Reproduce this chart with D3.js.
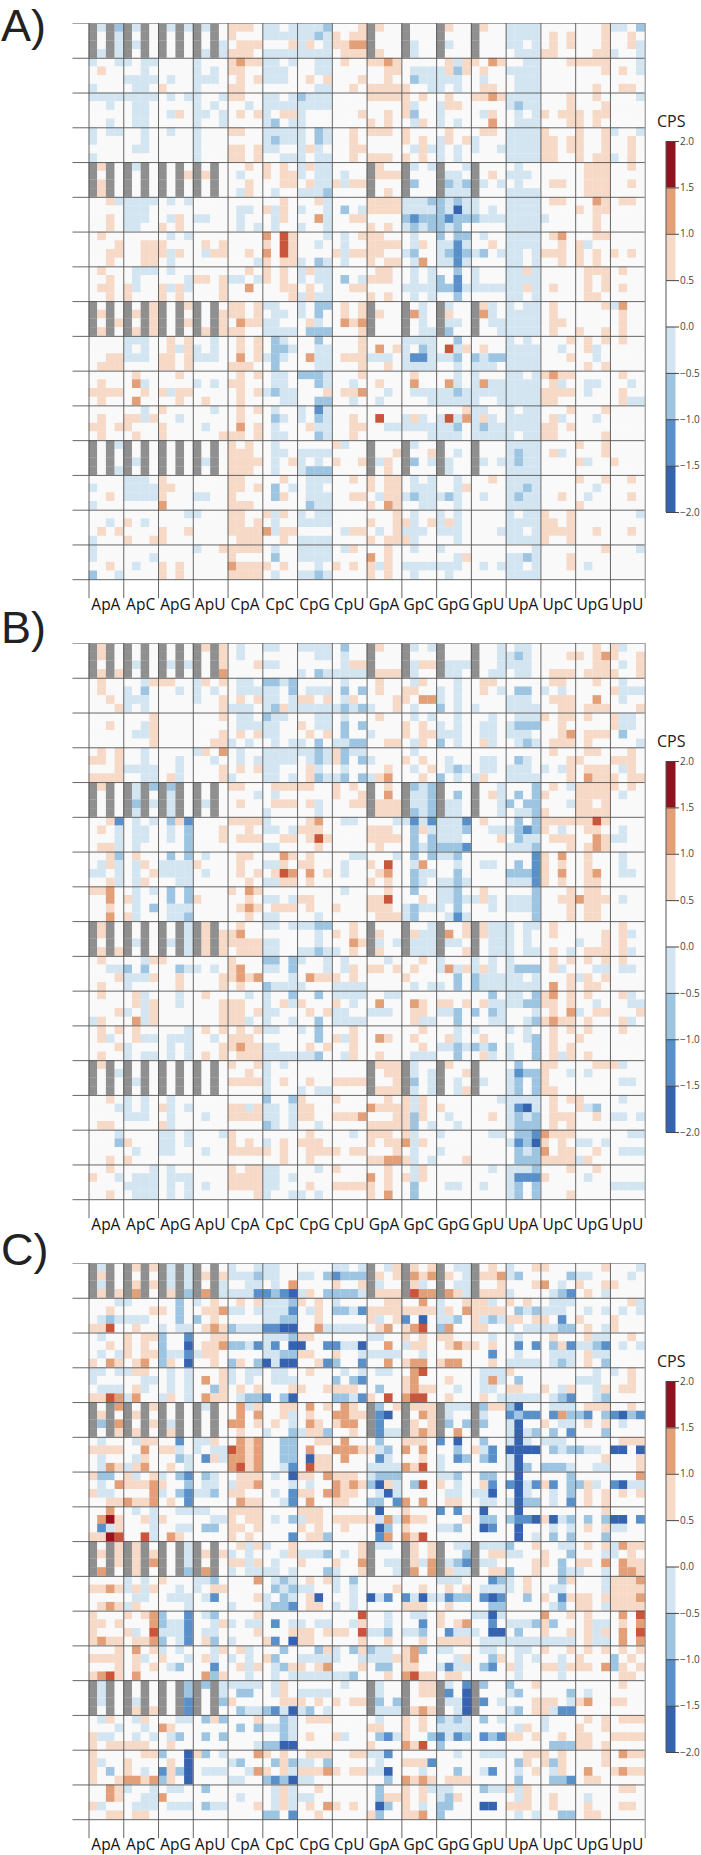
<!DOCTYPE html>
<html>
<head>
<meta charset="utf-8">
<script src="https://cdn.jsdelivr.net/npm/d3@7"></script>
<style>
  html, body { margin: 0; padding: 0; background: #fff; }
  svg { display: block; }
  text { font-family: "Open Sans", sans-serif; }
</style>
</head>
<body>
<svg id="chart" width="701" height="1855"></svg>
<script>
// Axis labels, one for each 4x4 block of cells
const dinucleotides = ['ApA', 'ApC', 'ApG', 'ApU', 'CpA', 'CpC', 'CpG', 'CpU',
                       'GpA', 'GpC', 'GpG', 'GpU', 'UpA', 'UpC', 'UpG', 'UpU'];

// Colour bar
const cbarTicks = [2, 1.5, 1, 0.5, 0, -0.5, -1, -1.5, -2];
const cbarBins = [-2, -1.5, -1, -0.5, 0, 0.5, 1, 1.5];
const cbarColors = ['#3663b0', '#5a90c9', '#9dc5e1', '#d4e5f2', '#ffffff', '#f6d9c6', '#e39f78', '#90111f'];

// CPS value read for each letter in the rows below; x = no data
const cpsByCode = { E: -1.75, C: -1.25, B: -0.75, b: -0.25, '.': 0.25, o: 0.75, O: 1.25, R: 1.75, D: 2.25, x: null };

// One string per row, four cells between spaces
const panelA = [
  'xbxB xbx. xbxb xbx. ooo. bb.b bbbB ...o xo.. x... xo.. xo.. bbbb .... ...o bb.B',
  'x.xb x.x. x.x. x.x. o... bbbb bbBb o.oo x... x... x... x... bbbb .o.o ...o ..o.',
  'x.xb xbx. x.x. x.xb .ooo ...o bo.b ooOO x... xb.. xb.. x... bb.b .o.o ...o ..ob',
  'xbxb x.x. x.x. xbxb ooo. bbbb bbbb .ooo xo.. xb.. x... x... .bbb oo.. ..oo b..b',
  'b..b b.bb .... b... oOoo bb.b ..bb .o.. ooOo .... .obo o.Oo ..bb ...o oooo ...b',
  '.o.. ..b. .... b.b. oo.. bbb. ..bb .... ..oo .bbb boBo .o.. bbbb .... ...o .o.b',
  '.... bbbb .b.. bbb. .o.o bbb. .o.o ...o ..o. .Bbb bbb. .b.. .bbb .... .... ....',
  'b... .bb. o... b... oo.. .... ..bb ..o. oooo o..b b.b. .oo. .bbb .... ..o. .oo.',
  'bbbb bbbb .b.b b..b oo.. bb.b Bbbb .... oooo o.o. .o.. ooOo bbbb ...o ..o. ...b',
  '..b. .bb. .... b.b. ..b. bbbb bbbb .... .... ob.. boo. .... bBbb ...o ...o ....',
  '.... .bb. .bo. bb.b .o.o b.oo b... ...o ..o. oB.. b... .bo. .b.b o.oo o.oo ....',
  '..b. .bb. .... b..b .... bB.b b... .... o.o. .bo. b.b. ..O. .bbb ...o o.o. ....',
  'b.bb ..b. .b.. b... oo.. bbbb b.Bb ..o. ooo. o... .o.. .oo. bbbb o... o..o b..b',
  'b... ..b. .... b... .... bBbb b.Bb ..o. .... o.o. bo.o b... bbbb oo.o o..o ..o.',
  '.... .bb. .... b... oo.o bb.. bob. ..oo .... .bob b.b. b..b bbbb oo.o o..o ..o.',
  'b... .... .... b... oo.o ..bb b.bb ..o. ooo. o.o. b.b. .... bbbb oo.. o.oo b.o.',
  'xox. xbx. x.x. x.x. ..o. o.o. bobb .... xo.. xb.b x..b x... .b.. .... .ooo ..o.',
  'x.x. x.x. x.xo xox. .b.. o.oo b.bb .b.. xooo x... xbb. x.o. bbb. .... .ooo ....',
  'xox. x.x. x.x. x.x. ..o. ..oo .obb oboo x... xB.. xBbB xb.b .b.. .oo. .ooo ..o.',
  'xox. x.x. x.x. x.x. .bo. .b.. bbbB .... x.o. x... xbbb x... bbbb .... .ooo ....',
  '..ob bbbb .b.b .... .... ..o. ..ob .... oooo bbbB BbBb b... bbbb .oo. ..Oo .oo.',
  '.... bbb. .... .... .bb. obo. b..b .B.b oooo bbbb BbEb b.b. bbbb .... o.oo ....',
  '..o. bbb. .bo. bb.. .b.. .bo. ..Ob ..oo .... BCBB BCBB Bbbb bbbb b... ..o. ....',
  '..o. bb.. o.o. .... .b.b .b.. b..b .... o.o. bBbB BbB. .... bbbb .... ..o. ....',
  '.o.. .... .b.b .... .... O.Ro ...b .b.o oo.. .b.. B.BB .b.. bbbb .oO. ..oo ....',
  '...o ..oo o... .o.o .... o.Ro ..b. .b.. oooo .bo. bbCb ..o. bbbb ..o. ob.. ....',
  '..oo ..oo obo. .boo ..o. O.Ro .... oboo oo.. bB.. bBCB bB.b bb.b ooo. o.o. o.o.',
  '..o. ..oo .b.. .... ...b o.oo b.Bb .b.. o.oo .bO. bbCb .... bb.b ..o. o.o. ....',
  '.o.. .bbb .b.. .... ..o. o.o. bobb .... .oo. .b.b ..B. b... bbob .... .ooo .o..',
  '..o. .b.. ...b oo.o bb.b o.o. b.bb .B.b ooo. .b.b B.C. b... bbbb .... .o.o ....',
  '.oo. ob.. obob ...o ..O. ..oo .o.b ..oo .... bbbb BBCb bbbb bbob .o.. .o.o .o..',
  '..o. o... o.o. ...o .... ...o bobb .... o.o. .b.b ..B. .... bb.b .... .oo. ....',
  'x.x. x.xo x.xo x.x. oo.o bb.. b.BB .o.o x... x.b. xb.. xob. b.bb .o.. ...o bO..',
  'xox. xoxo x.x. x.xo oo.o .bb. b.B. .o.o xo.. xOb. xo.. xOb. bbbb .o.. .... .o..',
  'x.xo x.xo x.xo x.xo .Ooo bb.. .ob. .OoO x... x.b. xbb. x.bb bbbb .oo. .... .o..',
  'xox. xoxo x.x. xoxo oo.. bbbb .BBB ...o x... x.bb xB.. x..b bbbb .o.. o..o .o..',
  '.... bbb. .o.o ..b. .o.o .Bb. ..B. ...o .... bbbb ..B. .... b.b. ...o .o.o .o..',
  '.... b.b. .obo b.b. .o.o .BBb ..bb ...o .O.o b.Bb .Rbo .o.. bbbb ..b. .ob. ....',
  '..oo bbb. oo.o bbb. .O.o bBb. .Obb .ooo bbb. bCCb bbB. BbBB bbbb ...o ..b. ....',
  '.ooo .... oo.o .... ooo. .B.. ..bb ...o ..o. bbbb ..b. bbb. bbbb .... .o.o ....',
  '.... .o.. ..o. .... .o.o .bb. BBBb ...o .... .o.. ..b. b... bb.b oOoo .... .o..',
  '.o.. .Ob. .... b.b. oo.. .bb. ..Bb ..b. .o.. .O.. .Ob. bObb bbbb .ob. .bb. ..b.',
  'oooo ..o. oboo .... .o.o bBbb ...o .ooO ..b. .bbb bbBb bbbb bbbb oooo .b.. .o..',
  '.o.. .O.. ..o. .o.. .o.. ..bb ..BB ..b. .b.. ...b bbbb b..b bbbb oo.. .... .obb',
  '.... ..b. o... ..b. .o.o .b.. b.Cb .... .... .... ...o bb.. b.bb ...o ...o ....',
  '.o.. oobo ..b. .... .o.. .Bb. b.Bb ..o. .R.. bob. bRbO bob. bbbb .ob. ..b. ....',
  'oo.o o... o... .b.. .O.o .b.. .obb ..oo ..bb bbbb bbB. bBbb bbbb oo.o .... ....',
  '.o.. .o.. o... ...o oo.o .bb. ..Bb ..o. .... ...b bbb. bbbb b.bb oo.. ...o ....',
  'x.xb x.x. x.x. x.x. o.o. .b.. .... ob.. x... xb.. x... x... bbbb .... o..o ....',
  'x.x. x.x. x.x. x.x. ooo. .bb. bbbb .... x..o x..o x.b. x... bBbb .ob. ...o ....',
  'x.x. xbx. x.x. xbx. oooo .b.o b.b. o..o xbo. xB.b xb.. xb.b bBbb .... ob.. o...',
  'x.xb x.x. x.x. x.x. ooo. .b.. bBBB .... x.o. x... xb.. x... bbbb .... .... ....',
  '.... bbb. o... .... oo.. ..o. .bbb ..o. o.oo .b.b ..b. ..o. bbbb .... o..o ..o.',
  'b... bbbb oo.. .... oo.o .B.b .bb. .... o.oo .bbb ..bo .... bbBb .... ..b. ....',
  '..o. bbbb o... bb.. o... .Bo. .bbb ..oo .boo bBbb bBb. .b.. bBbb ..o. .b.. ..o.',
  'b... .... O... .... ooo. .... .Bbb .... o.Oo ..bb ..b. .... bbbb .... o... ....',
  '.... .... ...b b... oo.. obo. b.bb .... ...o .b.. b.b. .... b.bb o..o .... ...b',
  '..b. o.b. .... .... oo.o .b.. bbbb .... o..o ob.o bob. .... bbbb oo.o .... ....',
  '.o.o .... o..o .... oooo Oboo .... .boo .b.o bbb. bbb. ...b bb.b oooo ..o. ..o.',
  'b... o..o o... .... .ooo ..o. bbbb .... o.oo ob.. ..b. .... bbbb o..o .... ....',
  'b... .... .... b..o oooo .b.. bbbb .bo. ..o. .b.. b... .... ...b .... ...o ...b',
  'b... ...b .... .... o... .B.. bbbb .... O.o. .... ..bo .... bbBb ...o .... ....',
  '..o. .b.. o.o. .... Oooo o.o. ..b. o.o. obo. bbbb bbb. .b.b bb.b ...o .b.. ....',
  'B..b .... o.o. .... oooo .b.. bbBb .... o.o. .b.. .b.. .... bbbb .... .... ....'
];

const panelB = [
  'xox. x.x. x.x. xoxo .b.. bb.. bbbb .B.. xo.. xb.b x... x..b .bb. .... ..o. ob..',
  'xox. x.x. x.x. x.xo .b.. .... ..bb .b.. x... x... x... x..b bBb. ...o o.oO o..o',
  'x.x. xbx. xbxb x.xo ...o bb.. .... .boo x... xboo xbbb x..b bbb. .... ..oo .b.o',
  'xoxo x.x. x.x. x.xO .... .... b.Bb bbbb xooo xb.. xbb. x.bb .bb. .ooo .ooo o..o',
  '.o.. ..bo oo.. bo.o .bb. BBbB .... .b.. .o.. .bo. ..b. .oo. .... .oo. ..o. .b..',
  '.o.. b.B. ..b. b.b. .bbb bb.B .bbb .B.B .o.. oo.. b.b. .o.b .BB. b.b. .... obbb',
  '..o. bbb. .... b..o .o.o bb.b oo.o .bo. ...o o.OO b.b. .... bbb. .ooo ..O. .b..',
  '...o b.b. .... ...o bbb. bBob bbbb bBbB b..o .b.. B.b. b... bbbb ..oo .ooo ...o',
  '.... ...o .... ...o .bb. Bbb. ..bb .b.. .o.. .b.b ..b. ..b. .bbb o.oo .o.. obb.',
  '..o. ..bo .... .... .bbb bb.. o.bb .B.B .... o.o. b.b. .bb. bBBB ..o. .... obb.',
  '.... .bbo .... ...o .o.o bb.. .o.o .B.. b... o.oo bbb. .bb. bbb. ..oO .ooo .B..',
  '.... ...o .... ..oo b.b. .b.b b.B. bbBB ..oo .bo. B.b. .ob. .bBb .ooo .o.. ...b',
  '.o.o ..b. .... bo.O .b.. bbbb bbBb oBbb .... .b.. .... .... .... .o.. .oo. ..o.',
  'oo.o ..b. ..b. ..b. .b.b bbbb .bBb oB.B b... o.o. .b.. .bb. .Bb. ...o o... ooo.',
  '...o bbbb ..b. ...o .o.o bb.. .ob. .b.. ..o. .b.o .bBb .bb. bbb. b.bo .ooo .bo.',
  'oooo ..bb .ob. ...o b... bb.b .oBb bB.B boO. ..o. B.b. bo.. bbbb ...o .Ooo o.oo',
  'xox. xbxB xBx. x.x. oo.. .ooo oo.. o.o. x.o. xBbB x... x..b ...B .o.b oooo o.o.',
  'x.x. xbx. xbx. x.x. ...b .b.. .... o..o x.O. xbbB x.B. x.ob .B.B o... oooo .b..',
  'x.x. xBxb xbx. xbx. .o.. .ooo .ob. ..oo xooo xbbB xbb. x..b B.BB ...b oo.o ....',
  'x.x. xbx. xbx. x.x. .... b... ..b. .... xooo xBbB xbb. x..b .bbB o... oooo ....',
  '..oC .b.b .BoC .... oooo b... .oO. .bb. ...b bCbC bbbC .o.. .B.B oooo ooRo ....',
  '.o.b .bb. .b.B ...o ..o. bb.b ooo. .... ooo. .Bob bbbB ..bb bBCB o.b. .oo. .b..',
  '...b .bb. .b.B ...o .ooo ..oo .oRo .... oooo .B.B bbb. ...o .Bbb .ooo ..Oo bb..',
  '.oob .b.. ...B .... .... bb.. ..o. .... .o.. .BbB BBBC .... bbbB ...o .oOo ....',
  '..oB .o.. .B.B .b.. .oo. ..Oo .o.. ..bb ...b .B.B bbB. .... ...C o.O. .o.. .b..',
  '.bob .bo. bbbb o... .o.. bbo. oo.. .b.. o.R. .bO. ..b. .bb. .B.C o.o. .o.. .b..',
  'bb.b .b.o bbbb .b.. .o.o .oRO .O.o .b.. .oO. .Bbb ..B. .... BBBC o.O. .oO. .bb.',
  '..ob .bo. ..bb .... ..o. bboo .o.. .... o.o. .Bb. bbBb .... bbbC o.o. .oo. ....',
  'ooO. .b.b .B.B .... o.Oo .... .... .b.. ..o. .B.. bbB. .o.. ...B ...o .oo. ....',
  '..O. ob.. .B.B o... ..o. bb.b oo.. .... ooR. ..o. bbBb bob. bbbB ..oo Oooo .b..',
  '..o. .b.B .bbb .... .oOo .ooo .o.. o... ooo. bBbb b.B. ..b. bbbB ...o .oo. ....',
  '..O. ob.. .bbB .... ..o. bb.. ..b. .... .ooo bB.. .bCb .... ...B ...o .oo. ....',
  'xox. x.x. x.xb xox. .o.. bb.b bbBB ..o. x... x..b x..o xobb b.bb .o.. .... .o..',
  'xox. x.x. x.xb xoxo oO.. .... ..b. o.o. xo.. xobb xO.o xobb b.b. .o.. ...o .ob.',
  'x.x. xbx. xbxb xoxo oooo bb.. ..b. ..Oo xb.b xbbb xbb. x.bb b.b. .... b..o .o..',
  'xoxo x.x. x.xb xoxo .ooo bb.. bbBb b.o. xo.. xbbb x..o x.bb b.bb .o.b .ooo .ob.',
  '.o.. ..bo o... .... o... BB.B b..b .b.. ..b. ..o. b... b.b. b... .o.o .o.o .o..',
  '..bb B.B. ..Bb b.b. oO.. bb.B ...b .bo. oo.o .o.. bObo bob. bBBB .ob. ..bb .bb.',
  '...o bbbo ..o. ...o oOoO ...b .Ooo o.o. .... o... ..B. Bbbb bb.b ...o bo.o ....',
  '.o.. b... ..o. ...o .o.. Bbbb b... bbbb .... .b.b b.B. Bbbb bbbb .O.o .oo. ....',
  '.o.. .ob. ..b. .o.. ..b. b..B ..B. bbbb ..bb .... .... ..B. bb.B oO.o .o.. .ob.',
  '.... .obo ..b. ...o oo.. b.ob o... o.b. .O.. .Oo. oo.o .obb bbBB oo.o ..b. ..bb',
  '...o b.bo .... ...o oo.o bb.. .o.o bb.. bbb. .oo. bbB. B.Bb ...b .o.O b.oo ...o',
  'bo.. .Obo .... ...o oob. b..b ..B. bbbb .... .obb ..B. ..bb ..bB oOoo .o.. .ob.',
  '.o.o .o.. ...b .o.o .o.o bb.. b.B. ..o. .... ..o. ..b. b... b.b. .o.o .o.. .o..',
  '.ob. .obb .bbb ..b. ooo. .... ..B. obo. .Oo. .o.. .ob. .o.. ..bB .o.. o... ....',
  '...o b... .b.b ...o oOoo bb.. .o.o ..o. .... ..o. bbBb BbB. b..B .o.o .... ....',
  '.o.. b.bb .b.b .o.o .ooo bbbb bbB. .bo. .o.. .bbb ..B. .ob. b..B .obo .o.. ....',
  'xox. x.x. x.x. x.x. o..o b.b. .... .... xooo xb.. xo.. x... .B.. oo.. ..oo ob..',
  'x.xb x.x. x.x. x.x. ..o. b... .... .... x.oo xb.b x..o x... bCBB o..b .b.. ....',
  'x.x. xbx. x.x. x.x. oooo b.o. .o.. oooo x..o xB.b x.b. xb.. bB.B o... .... .bb.',
  'x.x. x.x. x.x. x.x. .... b... b.bb .... xooo xb.b x.bo x... bB.B oo.. .... ....',
  '..o. b.b. .b.. .... .... B..B o... o... ..o. obo. .... ...b bbbb .o.o o... .b..',
  '...b b.b. ob.b .... oobo bb.b oo.. .... Oooo obo. o... .... bCEb .o.. obB. ....',
  '.... bbb. .b.. .b.. oooo bb.b oo.. oooO ...o oBo. .b.. ..o. bBbB .ooo ..o. bb.b',
  '.oo. .... ob.. .... .... Bb.b ..b. .... oooo oB.b ..b. .... bBBB .o.o .... ....',
  '...b .... bb.b ...b o... .... .o.. ..b. ooo. ob.. b... ..bb .BBC Oooo .... ..bb',
  '...B o... bb.b .... o.o. b.o. ooo. .... o.oo Obo. .... .... bCBE o.o. bb.b ....',
  '.... .b.. bb.. .b.. oooo o.o. .ooo o.oo ...o .b.. b... .... .BbB O.oo ..o. .bbb',
  '..o. o... .... .... .... ..o. .o.. .... ooOO ob.b ...o .... .BBB oooo bo.. ....',
  '..o. ...b .b.. .... o.oo bb.. ..b. o... ..o. .bo. .... ..b. bbbB ...o ..o. ....',
  'o..b .bbb .bbb .... oooo bb.b .... .... O.o. obo. .... .... bCCC o... .b.. ....',
  '.... bbbb .b.b .b.. oooo bb.. .o.. oooo o.o. .B.. .bb. .b.. bB.B .... .... bbbb',
  '..o. .bbb .b.b .... ...o b..b b.b. .... o.O. .B.. .... .... bB.B ...o .... ....'
];

const panelC = [
  'xbx. xoxo xbxb x.x. b..b bb.. .... bb.b x.bo xo.o x.bb x.o. b..o o... ...o ...b',
  'xox. x.x. xbxb xoxo bbbB bb.. bb.B CBBB xo.o xOoO xo.b xooO bB.. ...B bb.. ..b.',
  'xbx. xoxo xbxb x.xb ..bb .b.O .... o..o xb.. xob. x.bb x..o ...o O.b. o..o o...',
  'xoxo xOx. xoxB xOxb bbbC CBCE bo.B BBBb xooo xROO xOob xooo b... .bBC .o.b ....',
  '...b b... ..B. b.o. .o.o bbbB o.o. b... ..oo ..O. b..o oob. o.o. .bbb .... ..ob',
  '..o. ...o o.B. .ooO bb.b bbbC .bo. BBbC oooo oooo bo.O oooo .BbB bbb. .b.b .b.b',
  '.bBb bbb. ..B. B.o. .... bbBB ..o. .... ob.o C.E. bbB. obBb oo.o o.C. o... o...',
  'ooR. .o.. b.bb .oOo Bbbb CCEE ..Ob bbbb .oO. oOR. BO.. oo.. b.bb bbBB .o.b o...',
  '.b.. o.oo B..C ..oo .... bbbB oo.. .... bb.. o.o. oo.. ..b. .b.. .o.. .obb ..o.',
  '..o. o.o. B..E .ooO BBbC bC.E E..C CbbE ..O. boo. .oOo o.o. .C.C .BoC bbBC .b.b',
  '.b.b o.oo BbbC boo. .... bbBB oo.. o..b bbbb ..b. .... ..C. .b.. .bbb .obb ....',
  'o.Oo .oO. Bo.E ..o. Bo.B EbEE ..oC B..C ..O. oOO. oOO. ..o. bbbb .bBb .o.B ....',
  'bb.b boo. .b.b ...o b.bb .bb. .o.. .b.b .bb. .OR. .... .bbb o... .... ..b. b.o.',
  'b... ..bb .b.b .O.o b.b. .bbb .... B.BC .... oO.. .o.. .bOb .B.. .... bbb. ..o.',
  '.bbb .ob. .b.b ..Bo .o.o ...o o..o ooo. .B.. oOoo ..b. .bb. oo.. o.bo ..bo .oo.',
  'ooRO bO.. bo.b .Ooo .bBB C.BE .... BBbC o.R. ORR. .o.. .o.b bbbb .bBC ..bB ....',
  'x.xO x.xo x.x. xbx. .Obo ..oo .O.o .Oo. xB.o xooo xbbb xBoo BE.. .bbb .ooo ..o.',
  'xox. xox. x.x. x.x. .O.O ..ob .o.. OOoo xCE. x.Oo xb.. xb.. CBCC .COB BC.B CEBC',
  'xBxO x.xo xbx. x.x. OO.o .o.b .Oo. oOO. xC.. xo.o xB.B xB.. bE.. o.bb .o.o .b..',
  'x.xo xox. xox. x.x. .o.. b..B booB ..o. xCbb xoOo x.O. x... bEbB .B.C ...B ....',
  '.b.. .boo ..C. bbo. .OoO ..BB ..oo .O.. .B.. ooo. C.E. .B.. bEb. bbb. .... .ooo',
  'oooo ..O. oob. b.bb ROoO ..BB .O.. OOOo obB. O.O. ..B. obC. EEEE .BbB Bbb. EE.E',
  '.b.. .bo. ..Bb .Cob OOoO ..BB .Eoo .O.. .Cb. ..o. b.CB .BC. bE.. .... ...o ...o',
  '.bOo boO. .o.b .... ORoO ..bC .Roo .... bbbb OoR. b... .... bEB. BBBb ..bb ...o',
  'oBB. ob.o b.BC .Bb. .ooo .b.E oo.O ooo. bBBB .... bbB. .BB. .E.. ...B .... ...O',
  '.b.O oooO o..B .bb. booO ...b .b.. OoOo BEob .BR. o.b. .oC. CEbC oC.B Bob. CEbb',
  'obb. ...O b.BC bbB. oo.. .b.C oo.O Ooo. .bEb .... .bb. bbE. .Eb. .b.B .o.o .o.o',
  '..oo OooO .o.C .... .Ooo ..bC .O.. oo.. BB.C O.O. .oo. .bb. bEBB .b.C .o.o ....',
  '..O. .b.b ..bb bb.. oooo .... ooo. .... .E.. o... C.C. .E.. .E.. .... ...o ....',
  '.ODo ..ob o... ..bb o.oo .b.B boo. oooo obOb Ooo. ...o .BB. BCCE oEbB .B.B EE.C',
  '.Cbo ...b ..bb .BB. oo.o .... o.o. .o.. .EB. o... bbB. .EC. .E.. .b.b .o.o bb..',
  'ooDR ..Rb .Oo. .... o.o. ...C .ooB .... .CO. OoR. .... .... .E.b .B.B ...B ....',
  'x.xo xox. x.xb x.x. .obo b..o .... ...o xbb. xo.o x.bb xbbb B..o ..bb .o.o bOoo',
  'xoxo xoxo x.xb xoxo b.b. ..bo bbbB .b.o x... xo.o x..B x.oo bb.. o..B ...b b.o.',
  'x.xo xoxO x.xb x.x. oobo .b.. o... o..O x.bb xobO xbBC xbb. ...o o.B. oo.O .Ooo',
  'xOx. xox. x.xB xOx. b.bb bb.b ...B b..o x..b xO.O xobb x.oo B..o ..Bb b..b .OOo',
  '.... b.b. o... bbB. ...O .bBb .o.o b.B. .... .... bbb. ..CB b.o. ..Bo ...b oooO',
  'ooOo bobo ..b. b.oo .... .BbB bb.. b.b. ...o ..o. .o.o .bbb b.o. .bb. ...b oooo',
  '.... .bb. .bbb .bC. ...o b.Bb .oE. ..b. EbC. CbEb bCBB .CEC ..B. o.Co oo.o oooO',
  '.oOo bo.. ...b .... b... bBBC .oo. b.b. .... ooo. .o.. ..BB .... .bB. oo.b oooo',
  'o... o.oO B..C .bB. ...o .... .... ...R ..b. .bb. o... bbEb .... O..o .o.. .O.R',
  'oo.o ...O BbbC ..bo b.bb .C.b b.bb ..bo ..b. ..C. o.oO ..C. bbbB oB.. .obb .o.O',
  'o... ob.R bbbC .bb. ...o ...o oo.o oo.R bbB. bbB. .Cbb b.EE .B.. o..o .obo .O.R',
  'oOoo .ooO B.bC .oB. b... oC.E oo.. ...o ..o. ..o. oooo .bbb bbbb bbbb .obb .O.O',
  '...o .O.o b.b. ..bo .ob. ..B. ..Bo b.Bo Bbb. oOB. bb.. .bb. .bb. o..o .o.o .o.o',
  'oooo .ob. o..b .ob. b.b. oB.. bbbb b..b bbbo oO.. ..bo ..Bo .b.b ..b. o... B.o.',
  '...o .o.o .bB. ..C. .obo .bBo o.oO ...o .BB. oo.. bCbb .BC. ob.. oobo oo.O Bo.o',
  'oORo .O.. .... .OBo ..b. .b.b bbbb bbB. ..o. ORoo .oo. .... .b.. ..b. .... .oo.',
  'xbx. x.x. x.xB xBxb bbbb .bo. .... .b.. xb.. x.oo xb.C xB.. B..o .... .... .o..',
  'xbx. x.x. x.xB x.xb .BB. .bo. bbbb .... xb.. x.oo xC.E x... bB.. ...B .b.. ....',
  'xbx. xbx. x.xC x.xB o... ..oo o.o. o.oo xB.B x... xbbE xC.b ...o oo.b oO.. oo..',
  'x.x. xoxo x.xC x.x. .Bbb BCbE bB.b .... xbbb xoOo x.bE x... bB.o obCC .... ....',
  '.bo. .bo. ..bb .BoB ...o ..Bb .ooo .... .b.. o.o. BbBb .B.b .... b... .o.o .ooo',
  '...b ..b. Oo.. .... .B.B bbBb .... .... oo.. o.o. bbbb .... .bo. b... o..o ....',
  'obb. .b.b .bB. .B.B .... ..Bb .o.. ob.. .BCb o..B CbCB .CBC oo.o ..o. oo.. oooo',
  'o.oo ooo. .o.. .... ...b BBEE .... .... o... OoR. B... .... .... .BBB oo.o ....',
  'o... ..oo B..E oB.b ...O o.o. .ooo ..oo bbC. .... ..b. .bbb ..oo o.o. ...o .Ooo',
  'ob.. o... .o.E .... bB.. .BoB bb.B .... .b.. oooC .... .... .Bo. oBo. ...o ....',
  'o.B. o.b. CoBE .bbb ..bO o.ob oooO o.oo bbE. ..b. ..B. .bC. .b.o .bo. .O.. oOoo',
  'o..o OOoO Bo.E .... bb.. BCBE bb.. .... ..B. OoOo .ooo .... .B.. .BBC .oo. ....',
  '..Oo b..b .bb. .B.. .... .bob ..o. .... .B.. o.ob bb.. .Bbb obo. .... .... .oo.',
  '..Oo ..bb O... .... .b.. .bob bb.. .... .Boo o.o. bBo. .... .bo. .o.. .b.. ....',
  'ob.. .bbb .bbb .Bbb ...o .bob .o.O o.o. .EB. o.b. BB.. .EE. ooo. .o.. .o.. .oo.',
  '..oo .oo. .... .... .... BB.C ..o. .... oB.. ooO. B... .... .b.b ..BB .oo. ....'
];

const panels = [
  { name: 'A)', rows: panelA, top: 23, labelY: 41 },
  { name: 'B)', rows: panelB, top: 643, labelY: 643 },
  { name: 'C)', rows: panelC, top: 1263, labelY: 1265 }
];

// Layout constants
const LEFT = 88.5;
const SIZE = 556.2;
const TICK_OUT_LEFT = 16;
const TICK_OUT_BOTTOM = 19;
const CBAR_X = 666;
const CBAR_W = 9.5;
const CBAR_OFFSET = 118; // colour bar top, below the panel top
const CBAR_H = 371;

const cellColor = d3.scaleThreshold()
    .domain([-1.5, -1, -0.5, 0, 0.5, 1, 1.5, 2])
    .range(['#3663b0', '#5a90c9', '#9dc5e1', '#d4e5f2', '#f9f9f9', '#f6d9c6', '#e39f78', '#c9553a', '#9e1220']);

const svg = d3.select('#chart');

const cellIndex = d3.range(64);
const x = d3.scaleBand().domain(cellIndex).range([0, SIZE]);
const y = d3.scaleBand().domain(cellIndex).range([0, SIZE]);
const blockLine = d3.scaleLinear().domain([0, 16]).range([0, SIZE]);
const labelX = d3.scaleBand().domain(dinucleotides).range([0, SIZE]);

panels.forEach(panel => {
    const cells = [];
    panel.rows.forEach((row, r) => {
        row.replace(/ /g, '').split('').forEach((code, c) => {
            cells.push({ r, c, value: cpsByCode[code] });
        });
    });

    // Liberation has a small ascent, so the top panel letter stays inside the page
    svg.append('text')
        .attr('x', 1)
        .attr('y', panel.labelY)
        .attr('font-size', 45)
        .style('font-family', '"Liberation Sans", sans-serif')
        .attr('fill', '#222')
        .text(panel.name);

    const g = svg.append('g').attr('transform', `translate(${LEFT},${panel.top})`);

    g.selectAll('rect.cell')
        .data(cells)
        .join('rect')
        .attr('class', 'cell')
        .attr('x', d => x(d.c))
        .attr('y', d => y(d.r))
        .attr('width', x.bandwidth() + 0.2)
        .attr('height', y.bandwidth() + 0.2)
        .attr('fill', d => d.value === null ? '#8f8f8f' : cellColor(d.value));

    // Block grid, the ticks run out to the left and below
    const hAxis = g.append('g').call(d3.axisLeft(blockLine).tickValues(d3.range(17)).tickFormat(''));
    hAxis.select('.domain').remove();
    hAxis.selectAll('line')
        .attr('x1', -TICK_OUT_LEFT)
        .attr('x2', SIZE)
        .attr('stroke', (d, i) => i === 0 ? '#999' : '#555')
        .attr('stroke-width', 0.9);

    const vAxis = g.append('g').call(d3.axisBottom(blockLine).tickValues(d3.range(17)).tickFormat(''));
    vAxis.select('.domain').remove();
    vAxis.selectAll('line')
        .attr('y1', 0)
        .attr('y2', SIZE + TICK_OUT_BOTTOM)
        .attr('stroke', (d, i) => i === 16 ? '#777' : '#555')
        .attr('stroke-width', 0.9);

    g.selectAll('text.dinuc')
        .data(dinucleotides)
        .join('text')
        .attr('class', 'dinuc')
        .attr('x', d => labelX(d) + labelX.bandwidth() / 2)
        .attr('y', SIZE + 31)
        .attr('text-anchor', 'middle')
        .attr('font-size', 15.5)
        .attr('fill', '#111')
        .text(d => d);

    // Colour bar
    const cbarTop = panel.top + CBAR_OFFSET;
    const cbarY = d3.scaleLinear().domain([-2, 2]).range([CBAR_H, 0]);
    const cbar = svg.append('g').attr('transform', `translate(${CBAR_X},${cbarTop})`);

    cbar.selectAll('rect')
        .data(cbarBins)
        .join('rect')
        .attr('x', 0)
        .attr('y', d => cbarY(d + 0.5))
        .attr('width', CBAR_W)
        .attr('height', d => cbarY(d) - cbarY(d + 0.5))
        .attr('fill', (d, i) => cbarColors[i]);

    const cbarAxis = cbar.append('g').call(
        d3.axisRight(cbarY).tickValues(cbarTicks).tickFormat(d3.format('.1f')).tickSize(13).tickPadding(1)
    );
    cbarAxis.select('.domain').remove();
    cbarAxis.selectAll('line').attr('stroke', '#444').attr('stroke-width', 1);
    cbarAxis.selectAll('text')
        .attr('font-family', '"Open Sans", sans-serif')
        .attr('font-size', 10)
        .attr('fill', '#444');

    cbar.append('line')
        .attr('x1', 0).attr('x2', 0)
        .attr('y1', 0).attr('y2', CBAR_H)
        .attr('stroke', '#555');

    svg.append('text')
        .attr('x', 657)
        .attr('y', cbarTop - 14)
        .attr('font-size', 16)
        .attr('fill', '#222')
        .text('CPS');
});
</script>
</body>
</html>
